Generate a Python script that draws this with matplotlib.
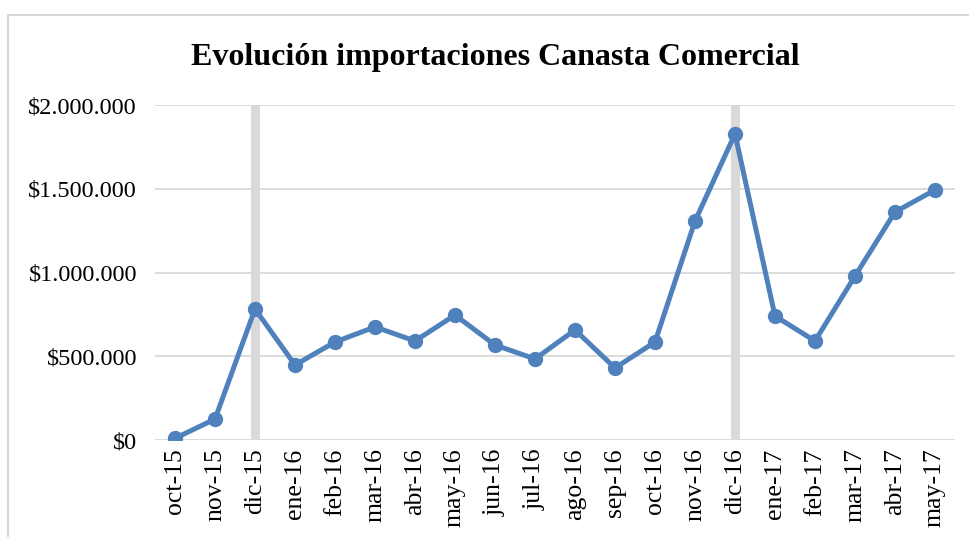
# Evolución importaciones Canasta Comercial
import matplotlib.pyplot as plt
from matplotlib.patches import Rectangle
from matplotlib.ticker import FuncFormatter

meses = ['oct-15', 'nov-15', 'dic-15', 'ene-16', 'feb-16', 'mar-16', 'abr-16',
         'may-16', 'jun-16', 'jul-16', 'ago-16', 'sep-16', 'oct-16', 'nov-16',
         'dic-16', 'ene-17', 'feb-17', 'mar-17', 'abr-17', 'may-17']
importaciones = [10000, 125000, 782000, 448000, 585000, 675000, 591000,
                 746000, 567000, 484000, 657000, 430000, 585000, 1307000,
                 1827000, 740000, 591000, 979000, 1361000, 1493000]
marcas = ['dic-15', 'dic-16']  # barras grises verticales

plt.rcParams['font.family'] = ['Liberation Serif', 'DejaVu Serif']

fig = plt.figure(figsize=(9.7, 5.37), dpi=100)
ax = fig.add_axes([155 / 970, 1 - 440 / 537, 800 / 970, 335 / 537])

# marco del gráfico
fig.patches.append(Rectangle((8 / 970, -0.1), 1.2, 1 - 15 / 537 + 0.1,
                             transform=fig.transFigure, fill=False,
                             edgecolor='#d9d9d9', lw=1.5))

x = list(range(len(meses)))
for m in marcas:
    ax.axvline(meses.index(m), color='#d9d9d9', lw=6.5, zorder=1)

ax.plot(x, importaciones, color='#4f81bd', lw=3.6, marker='o',
        markersize=10, zorder=3)

ax.set_xlim(-0.5, len(meses) - 0.5)
ax.set_ylim(0, 2000000)
ax.set_yticks([0, 500000, 1000000, 1500000, 2000000])
ax.yaxis.set_major_formatter(FuncFormatter(lambda v, p: '$' + f'{int(v):,}'.replace(',', '.')))
ax.grid(axis='y', color='#d9d9d9', lw=1.3, zorder=0)
ax.set_axisbelow(True)
ax.set_xticks(x)
ax.set_xticklabels(meses, rotation=90, va='top', ha='center')
ax.tick_params(axis='both', length=0, labelsize=17.5)
ax.tick_params(axis='x', labelsize=18.5)
ax.tick_params(axis='y', pad=13)
ax.tick_params(axis='x', pad=6)
for s in ax.spines.values():
    s.set_visible(False)

fig.text(495 / 970, 1 - 57 / 537, 'Evolución importaciones Canasta Comercial',
         ha='center', va='center', fontsize=23, fontweight='bold')

fig.savefig('out.png', dpi=100)
